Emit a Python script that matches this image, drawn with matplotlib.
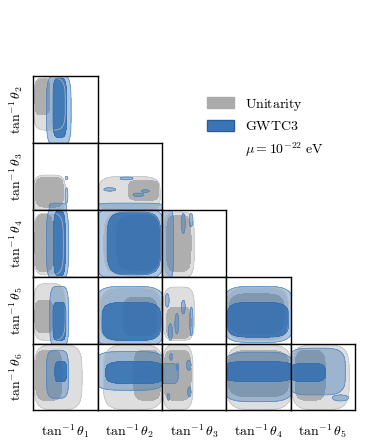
import numpy as np
import matplotlib
matplotlib.use("Agg")
import matplotlib.pyplot as plt
from matplotlib.patches import Patch

plt.rcParams['mathtext.fontset'] = 'cm'
plt.rcParams['font.family'] = ['DejaVu Serif']

params = [r'$\tan^{-1}\theta_1$', r'$\tan^{-1}\theta_2$', r'$\tan^{-1}\theta_3$',
          r'$\tan^{-1}\theta_4$', r'$\tan^{-1}\theta_5$', r'$\tan^{-1}\theta_6$']
legend_labels = [r'$\mathrm{Unitarity}$', r'$\mathrm{GWTC3}$', r'$\mu = 10^{-22}\ \mathrm{eV}$']

# Credible regions per panel (row, col): (xmin, xmax, ymin, ymax), in normalised panel units
unit_outer = {
    (0, 0): (0.01, 0.50, 0.19, 0.97), (1, 0): (0.01, 0.50, -0.05, 0.52),
    (1, 1): (0.02, 0.97, -0.05, 0.50), (2, 0): (0.01, 0.47, 0.03, 0.95),
    (2, 1): (0.10, 0.98, 0.03, 0.97), (2, 2): (0.02, 0.50, -0.02, 0.97),
    (3, 0): (0.01, 0.50, 0.05, 0.90), (3, 1): (0.04, 0.99, 0.03, 0.84),
    (3, 2): (0.02, 0.50, 0.05, 0.85), (3, 3): (0.01, 0.97, 0.05, 0.85),
    (4, 0): (0.02, 0.76, 0.01, 0.98), (4, 1): (0.09, 1.02, 0.01, 0.98),
    (4, 2): (0.01, 0.48, 0.01, 0.98), (4, 3): (0.01, 1.02, 0.01, 0.98),
    (4, 4): (0.02, 0.91, 0.01, 0.98),
}
unit_inner = {
    (0, 0): (0.03, 0.26, 0.42, 0.96), (1, 0): (0.04, 0.47, 0.04, 0.49),
    (1, 1): (0.48, 0.95, 0.14, 0.44), (2, 0): (0.03, 0.31, 0.08, 0.93),
    (2, 1): (0.30, 0.97, 0.10, 0.92), (2, 2): (0.07, 0.45, 0.08, 0.92),
    (3, 0): (0.03, 0.31, 0.17, 0.65), (3, 1): (0.40, 0.92, 0.12, 0.70),
    (3, 2): (0.07, 0.45, 0.08, 0.55), (3, 3): (0.05, 0.90, 0.15, 0.75),
    (4, 0): (0.04, 0.45, 0.15, 0.90), (4, 1): (0.56, 0.98, 0.15, 0.90),
    (4, 2): (0.03, 0.45, 0.15, 0.90), (4, 3): (0.03, 0.98, 0.20, 0.90),
    (4, 4): (0.07, 0.54, 0.15, 0.90),
}
gwtc_outer = {
    (0, 0): (0.21, 0.59, -0.05, 1.02), (1, 0): (0.25, 0.52, -0.05, 0.10),
    (1, 1): (-0.05, 1.05, -0.05, 0.10), (2, 0): (0.21, 0.55, -0.05, 1.05),
    (2, 1): (-0.05, 1.05, -0.05, 1.05), (2, 2): (-0.05, 0.18, -0.05, 1.05),
    (3, 0): (0.26, 0.55, -0.05, 0.86), (3, 1): (-0.05, 1.05, -0.05, 0.86),
    (3, 3): (-0.05, 1.05, 0.02, 0.86), (4, 0): (0.21, 0.55, 0.18, 0.90),
    (4, 1): (-0.05, 1.05, 0.30, 0.88), (4, 2): (-0.03, 0.25, 0.40, 0.70),
    (4, 3): (-0.05, 1.05, 0.13, 0.87), (4, 4): (-0.05, 0.85, 0.23, 0.93),
}
gwtc_inner = {
    (0, 0): (0.31, 0.52, 0.08, 0.97), (2, 0): (0.32, 0.50, 0.02, 0.98),
    (2, 1): (0.15, 0.98, 0.03, 0.97), (3, 0): (0.31, 0.51, 0.05, 0.62),
    (3, 1): (0.07, 0.98, 0.05, 0.62), (3, 3): (0.02, 0.97, 0.10, 0.62),
    (4, 0): (0.34, 0.52, 0.43, 0.73), (4, 1): (0.13, 1.02, 0.40, 0.73),
    (4, 3): (-0.05, 1.05, 0.43, 0.73), (4, 4): (0.01, 0.54, 0.43, 0.70),
}
gwtc_blobs = {
    (1, 0): [(0.50, 0.54, 0.45, 0.50), (0.50, 0.54, 0.10, 0.33)],
    (1, 1): [(0.10, 0.28, 0.28, 0.33), (0.35, 0.55, 0.45, 0.49),
             (0.55, 0.72, 0.20, 0.25), (0.68, 0.80, 0.26, 0.30)],
    (2, 2): [(0.30, 0.36, 0.65, 0.95), (0.42, 0.48, 0.75, 0.95)],
    (3, 2): [(0.05, 0.11, 0.55, 0.75), (0.20, 0.26, 0.15, 0.45),
             (0.30, 0.36, 0.45, 0.65), (0.43, 0.48, 0.12, 0.55),
             (0.10, 0.16, 0.05, 0.30)],
    (4, 2): [(0.12, 0.16, 0.75, 0.85), (0.22, 0.26, 0.60, 0.70),
             (0.40, 0.45, 0.20, 0.35), (0.38, 0.45, 0.60, 0.75),
             (0.08, 0.12, 0.15, 0.25)],
    (4, 4): [(0.65, 0.90, 0.14, 0.23)],
}

W, H = 365, 448
col_left = [33, 97.5, 162, 226, 290.5]
row_top = [76, 143, 210, 277, 343.5]
pw, ph = 64.5, 66.8

fig = plt.figure(figsize=(W / 100, H / 100), dpi=100)
gx, gy = np.meshgrid(np.linspace(-0.02, 1.02, 220), np.linspace(-0.02, 1.02, 220))


def region(ax, box, face, alpha, edge, p=4, lw=0.6):
    x0, x1, y0, y1 = box
    cx, cy = (x0 + x1) / 2, (y0 + y1) / 2
    a, b = (x1 - x0) / 2, (y1 - y0) / 2
    f = (np.abs(gx - cx) / a) ** p + (np.abs(gy - cy) / b) ** p
    ax.contourf(gx, gy, f, levels=[-1, 1], colors=[face], alpha=alpha)
    if edge is not None:
        ax.contour(gx, gy, f, levels=[1], colors=[edge], linewidths=lw, alpha=0.8)


for i in range(5):
    for j in range(i + 1):
        ax = fig.add_axes([col_left[j] / W, 1 - (row_top[i] + ph) / H, pw / W, ph / H])
        key = (i, j)
        if key in unit_outer:
            region(ax, unit_outer[key], '#c8c8c8', 0.6, '#c0c0c0')
        if key in unit_inner:
            region(ax, unit_inner[key], '#9a9a9a', 0.7, None)
        if key in gwtc_outer:
            region(ax, gwtc_outer[key], '#3b75b5', 0.40, '#4a85c8')
        for blob in gwtc_blobs.get(key, []):
            region(ax, blob, '#3b75b5', 0.40, '#4a85c8', p=2)
        if key in gwtc_inner:
            region(ax, gwtc_inner[key], '#3370b2', 0.85, '#3370b2')
        ax.set_xlim(0, 1)
        ax.set_ylim(0, 1)
        ax.set_xticks([])
        ax.set_yticks([])
        for s in ax.spines.values():
            s.set_linewidth(1.0)
            s.set_color('black')

for j in range(5):
    fig.text((col_left[j] + pw / 2) / W, 1 - 431 / H, params[j], ha='center', va='center', fontsize=10)
for i in range(5):
    fig.text(16 / W, 1 - (row_top[i] + ph / 2) / H, params[i + 1], ha='center', va='center',
             rotation=90, fontsize=10)

handles = [Patch(facecolor='#aaaaaa', edgecolor='#aaaaaa'),
           Patch(facecolor='#3b75b5', edgecolor='#2a5e9e'),
           Patch(facecolor='none', edgecolor='none')]
fig.legend(handles, legend_labels, loc='upper left', bbox_to_anchor=(194 / W, 1 - 84 / H),
           frameon=False, fontsize=10, handlelength=2.0, handleheight=0.8,
           labelspacing=0.5, handletextpad=0.8)

fig.savefig('out.png', dpi=100)
